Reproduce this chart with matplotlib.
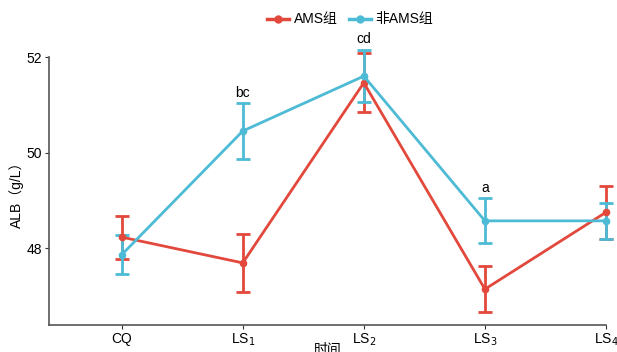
import numpy as np
import matplotlib.pyplot as plt
from matplotlib.lines import Line2D

plt.rcParams['font.family'] = ['Liberation Sans', 'Noto Sans CJK SC', 'DejaVu Sans']

times = ['CQ', 'LS$_1$', 'LS$_2$', 'LS$_3$', 'LS$_4$']
ams_mean = [48.23, 47.69, 51.46, 47.14, 48.75]
ams_err = [0.45, 0.60, 0.62, 0.48, 0.56]
non_mean = [47.86, 50.45, 51.60, 48.57, 48.57]
non_err = [0.41, 0.58, 0.55, 0.47, 0.38]
sig_labels = ['', 'bc', 'cd', 'a', '']

red = '#E2483B'
cyan = '#4DBBD5'

fig = plt.figure(figsize=(6.17, 3.52), dpi=100)
ax = fig.add_axes([49 / 617, 27 / 352, 557 / 617, 268 / 352])

x = np.arange(len(times))
for mean, err, col in [(ams_mean, ams_err, red), (non_mean, non_err, cyan)]:
    eb = ax.errorbar(x, mean, yerr=err, color=col, lw=2, marker='o', ms=4.5,
                     capsize=5, capthick=2, elinewidth=2)
    for artist in [eb.lines[0]] + list(eb.lines[1]) + list(eb.lines[2]):
        artist.set_clip_on(False)

for i, lab in enumerate(sig_labels):
    if lab:
        ax.text(x[i], non_mean[i] + non_err[i] + 0.08, lab, ha='center',
                va='bottom', fontsize=10, color='black')

ax.set_xlim(-0.6, 4)
ax.set_ylim(46.39, 52)
ax.set_xticks(x)
ax.set_xticklabels(times, fontsize=10)
ax.set_yticks([48, 50, 52])
ax.tick_params(labelsize=10, length=3, color='#333333', width=0.8, pad=2)
ax.spines['top'].set_visible(False)
ax.spines['right'].set_visible(False)
for s in ['left', 'bottom']:
    ax.spines[s].set_color('#555555')
    ax.spines[s].set_linewidth(1.2)

ax.set_ylabel('ALB（g/L）', fontsize=10, labelpad=2)
ax.set_xlabel('时间', fontsize=10, labelpad=-4)

handles = [Line2D([], [], color=red, lw=2.5, marker='o', ms=5),
           Line2D([], [], color=cyan, lw=2.5, marker='o', ms=5)]
fig.legend(handles, ['AMS组', '非AMS组'], loc='upper center',
           bbox_to_anchor=(350 / 617, 1.0), ncol=2, frameon=False,
           fontsize=10, handlelength=1.6, columnspacing=0.8, handletextpad=0.3)

fig.savefig('out.png', dpi=100)
